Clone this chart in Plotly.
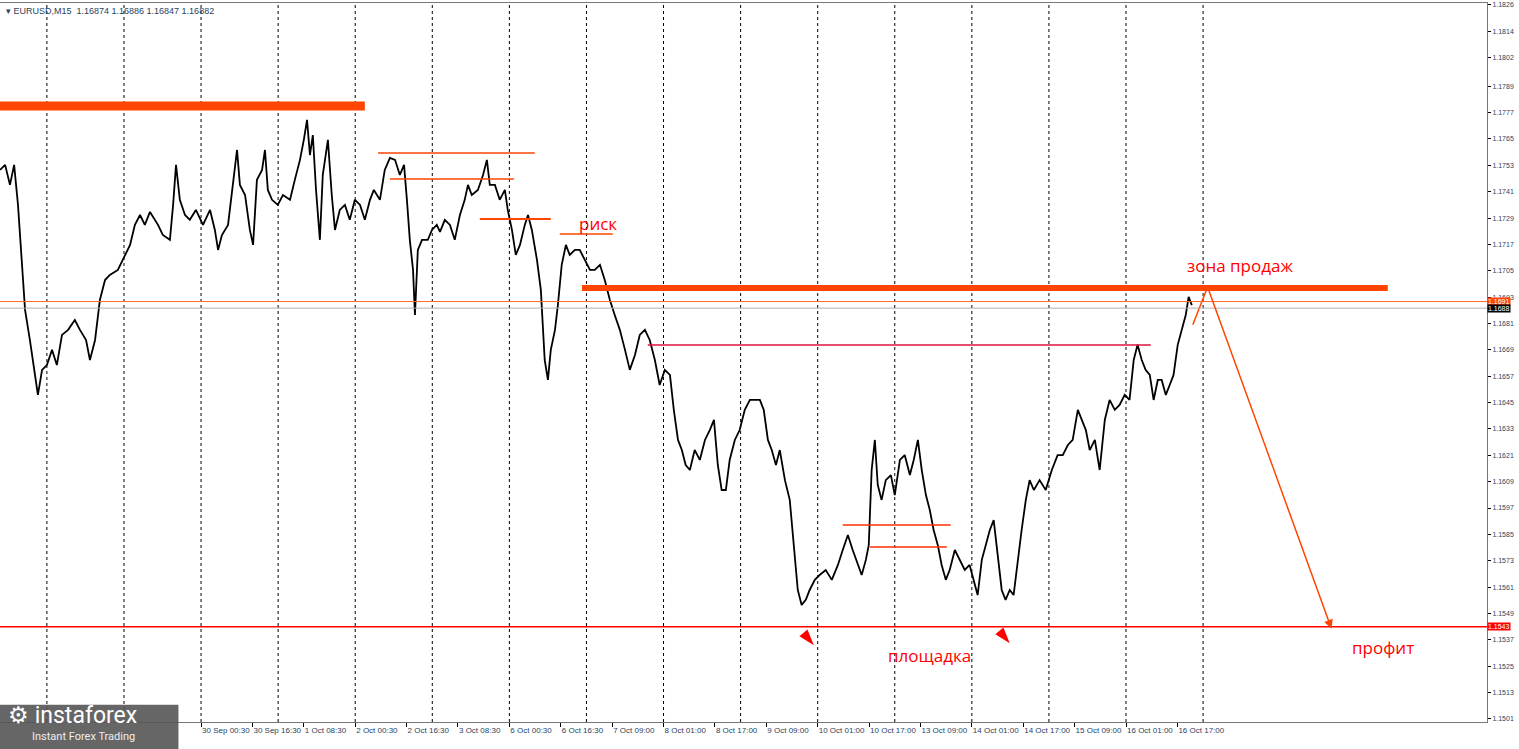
import plotly.graph_objects as go

# EURUSD M15, hours from left edge of chart vs price
hours = [0.0, 1.6, 3.1, 4.4, 5.6, 6.8, 7.8, 9.3, 10.9, 11.8, 13.1, 14.6, 16.2, 17.7, 19.3, 21.2, 23.3, 24.9, 26.8, 28.0,
         29.6, 31.1, 32.7, 34.2, 36.7, 38.9, 40.5, 42.0, 43.6, 45.1, 46.7, 49.2, 50.7, 52.9, 53.9, 54.8, 56.0, 57.6, 59.1, 61.0,
         63.2, 65.4, 66.9, 67.9, 69.1, 71.0, 72.2, 73.8, 74.7, 76.3, 77.8, 78.8, 80.0, 81.6, 82.5, 83.4, 84.7, 86.5, 88.1, 90.3,
         91.8, 93.4, 94.6, 95.6, 96.5, 97.4, 98.4, 99.6, 100.5, 102.1, 103.3, 104.3, 105.8, 107.4, 108.9, 110.5, 112.1, 113.6, 115.2, 116.4,
         118.3, 119.8, 121.4, 123.0, 124.5, 125.8, 126.7, 127.6, 128.6, 129.2, 130.1, 131.4, 133.2, 134.5, 136.0, 137.0, 138.5, 140.1, 141.6, 143.2,
         144.7, 145.7, 146.9, 148.8, 150.4, 151.6, 152.5, 154.1, 155.6, 157.2, 158.1, 159.4, 160.6, 161.9, 163.4, 164.4, 165.6, 167.2, 168.4, 169.6,
         170.6, 171.5, 172.8, 173.7, 174.9, 176.2, 177.4, 179.0, 180.5, 182.1, 183.7, 185.2, 186.8, 188.3, 189.9, 191.4, 193.0, 194.6, 196.1, 197.7,
         199.2, 200.8, 202.3, 203.9, 205.4, 207.0, 208.6, 209.8, 211.1, 212.3, 213.5, 214.8, 216.3, 217.9, 219.5, 221.0, 222.3, 223.5, 224.7, 226.0,
         227.2, 228.8, 230.3, 231.9, 233.5, 235.0, 236.6, 237.8, 239.1, 240.3, 241.6, 242.8, 244.4, 245.9, 247.2, 248.4, 249.6, 250.9, 252.1, 253.7,
         255.2, 257.1, 259.0, 260.9, 262.4, 264.0, 265.5, 267.1, 268.3, 269.6, 270.5, 271.4, 272.4, 273.3, 274.5, 275.8, 277.4, 278.6, 280.2, 281.7,
         283.3, 284.5, 285.8, 287.0, 288.3, 289.5, 290.7, 292.0, 293.2, 294.5, 295.7, 297.3, 298.8, 300.4, 301.9, 303.2, 304.4, 305.7, 306.9, 308.2,
         309.4, 310.7, 311.9, 313.1, 314.4, 315.6, 316.9, 318.1, 319.4, 320.6, 321.9, 323.7, 325.6, 327.5, 329.3, 330.9, 332.5, 334.0, 335.6, 336.8,
         338.1, 339.3, 340.9, 342.4, 344.0, 345.5, 347.1, 348.6, 350.2, 351.7, 353.0, 354.2, 355.5, 356.7, 358.0, 359.2, 360.5, 361.7, 363.0, 364.2,
         365.4, 366.7, 367.9, 369.2, 370.1, 371.1]
price = [1.17509, 1.17532, 1.17441, 1.17532, 1.17350, 1.17099, 1.16872, 1.16735, 1.16576, 1.16485, 1.16599, 1.16621, 1.16690, 1.16621, 1.16758, 1.16781, 1.16826, 1.16781, 1.16735, 1.16644,
         1.16735, 1.16917, 1.17008, 1.17031, 1.17054, 1.17122, 1.17168, 1.17259, 1.17304, 1.17259, 1.17318, 1.17259, 1.17213, 1.17191, 1.17350, 1.17532, 1.17373, 1.17304, 1.17282, 1.17327,
         1.17259, 1.17327, 1.17236, 1.17145, 1.17213, 1.17259, 1.17395, 1.17600, 1.17441, 1.17395, 1.17236, 1.17168, 1.17464, 1.17509, 1.17600, 1.17418, 1.17373, 1.17350, 1.17395, 1.17373,
         1.17464, 1.17555, 1.17646, 1.17737, 1.17577, 1.17668, 1.17418, 1.17191, 1.17486, 1.17646, 1.17395, 1.17236, 1.17327, 1.17350, 1.17282, 1.17373, 1.17350, 1.17282, 1.17373, 1.17418,
         1.17373, 1.17509, 1.17564, 1.17555, 1.17486, 1.17532, 1.17373, 1.17191, 1.17054, 1.16849, 1.17145, 1.17191, 1.17191, 1.17236, 1.17259, 1.17227, 1.17282, 1.17259, 1.17191, 1.17304,
         1.17373, 1.17441, 1.17395, 1.17418, 1.17486, 1.17555, 1.17441, 1.17441, 1.17373, 1.17418, 1.17327, 1.17236, 1.17122, 1.17168, 1.17259, 1.17304, 1.17236, 1.17099, 1.16963, 1.16644,
         1.16553, 1.16690, 1.16781, 1.16894, 1.17077, 1.17168, 1.17122, 1.17145, 1.17145, 1.17099, 1.17054, 1.17054, 1.17077, 1.17008, 1.16917, 1.16849, 1.16781, 1.16690, 1.16599, 1.16667,
         1.16758, 1.16781, 1.16735, 1.16644, 1.16530, 1.16599, 1.16576, 1.16417, 1.16280, 1.16234, 1.16166, 1.16143, 1.16234, 1.16189, 1.16280, 1.16325, 1.16371, 1.16166, 1.16052, 1.16052,
         1.16189, 1.16280, 1.16325, 1.16417, 1.16462, 1.16462, 1.16462, 1.16417, 1.16280, 1.16234, 1.16166, 1.16234, 1.16097, 1.16007, 1.15779, 1.15597, 1.15529, 1.15552, 1.15597, 1.15643,
         1.15665, 1.15688, 1.15643, 1.15711, 1.15779, 1.15847, 1.15779, 1.15711, 1.15665, 1.15734, 1.15801, 1.16143, 1.16280, 1.16075, 1.16007, 1.16097, 1.16120, 1.16029, 1.16189, 1.16211,
         1.16120, 1.16189, 1.16280, 1.16143, 1.16029, 1.15961, 1.15870, 1.15801, 1.15711, 1.15643, 1.15688, 1.15779, 1.15734, 1.15688, 1.15711, 1.15643, 1.15574, 1.15734, 1.15801, 1.15870,
         1.15915, 1.15734, 1.15597, 1.15552, 1.15597, 1.15574, 1.15734, 1.15870, 1.16007, 1.16097, 1.16052, 1.16097, 1.16052, 1.16143, 1.16211, 1.16211, 1.16257, 1.16280, 1.16417, 1.16371,
         1.16325, 1.16234, 1.16280, 1.16143, 1.16371, 1.16462, 1.16417, 1.16439, 1.16485, 1.16462, 1.16644, 1.16713, 1.16644, 1.16599, 1.16576, 1.16462, 1.16553, 1.16553, 1.16485, 1.16530,
         1.16576, 1.16713, 1.16781, 1.16849, 1.16931, 1.16894]

y_ticks = [1.1826, 1.1814, 1.1802, 1.1789, 1.1777, 1.1765, 1.1753, 1.1741, 1.1729, 1.1717, 1.1705, 1.1693, 1.1681, 1.1669,
           1.1657, 1.1645, 1.1633, 1.1621, 1.1609, 1.1597, 1.1585, 1.1573, 1.1561, 1.1549, 1.1537, 1.1525, 1.1513, 1.1501]
# labels left of 30 Sep are hidden behind the logo in the reference
x_tick_pos = [62.6 + 16 * k for k in range(0, 20)]
x_tick_text = ["30 Sep 00:30", "30 Sep 16:30", "1 Oct 08:30", "2 Oct 00:30", "2 Oct 16:30", "3 Oct 08:30",
               "6 Oct 00:30", "6 Oct 16:30", "7 Oct 09:00", "8 Oct 01:00", "8 Oct 17:00", "9 Oct 09:00",
               "10 Oct 01:00", "10 Oct 17:00", "13 Oct 09:00", "14 Oct 01:00", "14 Oct 17:00", "15 Oct 09:00",
               "16 Oct 01:00", "16 Oct 17:00"]
grid_hours = [14.6 + 24 * k for k in range(16)]

# drawn levels: (price, start hour, end hour, colour, width)
levels = [
    (1.1780, 0.0, 113.6, "#ff4500", 9),
    (1.17586, 117.7, 166.5, "#ff4500", 1.5),
    (1.17468, 121.4, 160.0, "#ff4500", 1.5),
    (1.17286, 149.4, 171.5, "#ff4500", 2),
    (1.17218, 174.3, 190.8, "#ff4500", 1.5),
    (1.16972, 181.2, 432.1, "#ff4500", 6),
    (1.16712, 201.7, 358.3, "#dc143c", 1.5),
    (1.15893, 262.4, 296.0, "#ff3000", 1.5),
    (1.15793, 270.8, 294.8, "#ff3000", 1.5),
]
full_levels = [(1.1691, "#ff6a2a", 1), (1.1688, "#b0b0b0", 1), (1.1543, "#ff0000", 1.5)]
forecast_h = [371.4, 376.0, 414.6]
forecast_p = [1.16804, 1.16976, 1.15420]
labels = [("риск", 186.2, 1.17263), ("зона продаж", 386.0, 1.17072),
          ("площадка", 289.5, 1.15301), ("профит", 430.5, 1.15333)]
pointer_h = [253.4, 314.4]
pointer_p = [1.15345, 1.15355]

fig = go.Figure()
fig.add_trace(go.Scatter(x=hours, y=price, mode="lines", line=dict(color="black", width=1.8), hoverinfo="skip"))
fig.add_trace(go.Scatter(x=forecast_h[:2], y=forecast_p[:2], mode="lines", line=dict(color="#ff4500", width=1.5)))
fig.add_trace(go.Scatter(x=pointer_h, y=pointer_p, mode="markers",
                         marker=dict(symbol="arrow", angle=140, size=17, color="#ff0000", line=dict(width=0))))

shapes = []
for g in grid_hours:
    shapes.append(dict(type="line", xref="x", yref="paper", x0=g, x1=g, y0=0, y1=1,
                       line=dict(color="black", width=1, dash="dot"), layer="below"))
for p, a, b, c, w in levels:
    shapes.append(dict(type="line", xref="x", yref="y", x0=a, x1=b, y0=p, y1=p, line=dict(color=c, width=w)))
for p, c, w in full_levels:
    shapes.append(dict(type="line", xref="paper", yref="y", x0=0, x1=1, y0=p, y1=p, line=dict(color=c, width=w)))
# logo block
shapes.append(dict(type="rect", xref="paper", yref="paper", x0=0, x1=0.12, y0=-0.038, y1=0.024,
                   fillcolor="#555555", line=dict(width=0), opacity=0.9))

ann = []
for t, hx, py in labels:
    ann.append(dict(x=hx, y=py, text=t, showarrow=False, font=dict(color="#ff0000", size=17, family="Open Sans")))
ann.append(dict(x=forecast_h[2], y=forecast_p[2], ax=forecast_h[1], ay=forecast_p[1], axref="x", ayref="y",
                xref="x", yref="y", text="", showarrow=True, arrowhead=2, arrowsize=1.2, arrowwidth=1.5,
                arrowcolor="#ff4500", standoff=0))
for v, bg in [(1.1691, "#ff4500"), (1.1688, "black"), (1.1543, "#ff0000")]:
    ann.append(dict(x=1, xref="paper", y=v, yref="y", xanchor="left", text=f"{v:.4f}", showarrow=False,
                    bgcolor=bg, font=dict(color="white", size=7, family="Liberation Sans"), borderpad=0))
ann.append(dict(x=0.003, y=0.998, xref="paper", yref="paper", xanchor="left", yanchor="top", showarrow=False,
                text="▾ EURUSD,M15  1.16874 1.16886 1.16847 1.16882", font=dict(size=9, family="Liberation Sans")))
ann.append(dict(x=0.004, y=0.03, xref="paper", yref="paper", xanchor="left", yanchor="top", showarrow=False,
                text="⚙ instaforex", font=dict(size=23, color="white", family="Roboto")))
ann.append(dict(x=0.02, y=-0.008, xref="paper", yref="paper", xanchor="left", yanchor="top", showarrow=False,
                text="Instant Forex Trading", font=dict(size=11, color="#eeeeee", family="Roboto")))

fig.update_layout(
    width=1519, height=749, margin=dict(l=0, r=32, t=3, b=27, autoexpand=False),
    paper_bgcolor="white", plot_bgcolor="white", showlegend=False,
    shapes=shapes, annotations=ann,
    xaxis=dict(range=[0, 463], tickvals=x_tick_pos, ticktext=x_tick_text, showgrid=False, zeroline=False,
               ticks="outside", ticklen=4, tickcolor="black", ticklabelposition="outside right",
               tickangle=0, automargin=False,
               tickfont=dict(size=8, family="Liberation Sans"), showline=True, linecolor="#777", mirror=True),
    yaxis=dict(range=[1.14996, 1.18269], side="right", tickvals=y_ticks, ticktext=[f"{v:.4f}" for v in y_ticks],
               showgrid=False, zeroline=False, ticks="outside", ticklen=3, tickcolor="black", automargin=False,
               tickfont=dict(size=7, family="Liberation Sans"), showline=True, linecolor="#777", mirror=True),
)
fig.write_html("out.html", config={"displayModeBar": False},
               post_script="document.body.style.margin='0';document.body.style.overflow='hidden';")
